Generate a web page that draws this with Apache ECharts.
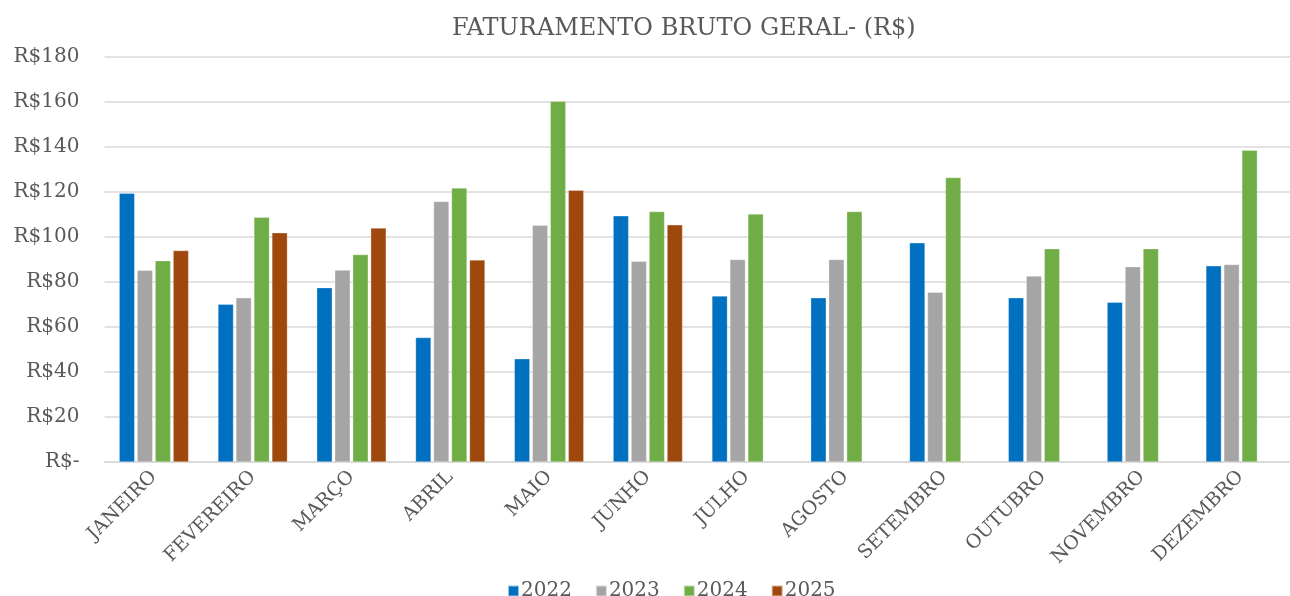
<!DOCTYPE html>
<html>
<head>
<meta charset="utf-8">
<script src="https://cdn.jsdelivr.net/npm/echarts@6/dist/echarts.min.js"></script>
<style>html,body{margin:0;padding:0;background:#fff}#c{width:1290px;height:596px}</style>
</head>
<body>
<div id="c"></div>
<script>
const months = ['JANEIRO','FEVEREIRO','MARÇO','ABRIL','MAIO','JUNHO','JULHO','AGOSTO','SETEMBRO','OUTUBRO','NOVEMBRO','DEZEMBRO'];
const years = ['2022','2023','2024','2025'];
const v2022 = [119.5, 70.1, 77.5, 55.3, 45.9, 109.4, 73.8, 73.0, 97.4, 73.0, 71.0, 87.2];
const v2023 = [85.2, 73.0, 85.3, 115.8, 105.2, 89.2, 90.0, 90.0, 75.4, 82.7, 86.8, 87.8];
const v2024 = [89.5, 108.8, 92.2, 121.8, 160.3, 111.3, 110.2, 111.3, 126.4, 94.8, 94.8, 138.6];
const v2025 = [94.0, 101.9, 104.0, 89.8, 120.8, 105.4, null, null, null, null, null, null];
const yTicks = [0, 20, 40, 60, 80, 100, 120, 140, 160, 180];
const colors = ['#0070C0', '#A5A5A5', '#70AD47', '#9E480E'];
const font = 'DejaVu Serif';
const txt = '#595959';

const seriesData = [v2022, v2023, v2024, v2025];
const chart = echarts.init(document.getElementById('c'));
chart.setOption({
  animation: false,
  title: {
    text: 'FATURAMENTO BRUTO GERAL- (R$)',
    left: 447, top: 12,
    textStyle: { fontFamily: font, fontSize: 24, fontWeight: 'normal', color: txt }
  },
  legend: {
    data: years, top: 576, left: 502,
    icon: 'rect', itemWidth: 11, itemHeight: 11, itemGap: 23,
    textStyle: { fontFamily: font, fontSize: 20, color: txt, padding: [0, 0, 0, -3] }
  },
  grid: { left: 104.5, right: -8.5, top: 57, bottom: 134, containLabel: false },
  xAxis: {
    type: 'category', data: months,
    axisLine: { lineStyle: { color: '#D9D9D9', width: 1.5 } },
    axisTick: { show: false },
    axisLabel: { rotate: 45, margin: 12, fontFamily: font, fontSize: 19, color: txt, interval: 0 }
  },
  yAxis: {
    type: 'value', min: yTicks[0], max: yTicks[yTicks.length - 1], interval: yTicks[1] - yTicks[0],
    axisLine: { show: false }, axisTick: { show: false },
    splitLine: { lineStyle: { color: '#D9D9D9', width: 1.5 } },
    axisLabel: {
      margin: 25, fontFamily: font, fontSize: 20, color: txt,
      formatter: v => v === 0 ? 'R$-' : 'R$' + v
    }
  },
  series: years.map((y, i) => ({
    name: y, type: 'bar', data: seriesData[i],
    barWidth: 15.5, barGap: '16%',
    itemStyle: { color: colors[i], borderColor: 'rgba(255,255,255,0.6)', borderWidth: 0.5 }
  }))
});
</script>
</body>
</html>
